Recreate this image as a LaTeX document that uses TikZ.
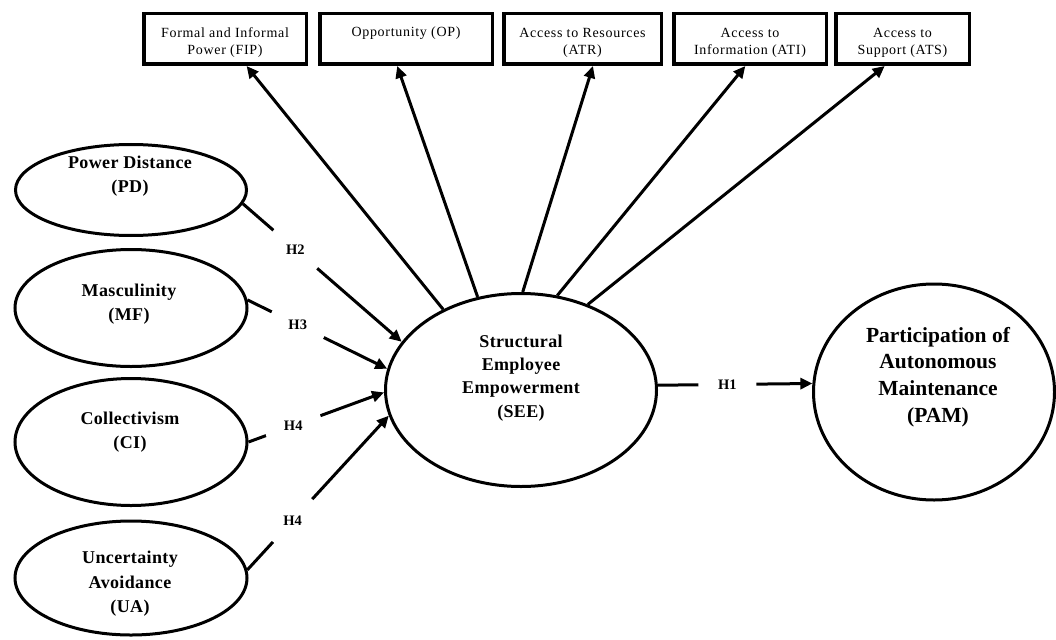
\documentclass[tikz,border=0pt]{standalone}
\usepackage{fontspec}
\setmainfont{Liberation Serif}
\usetikzlibrary{shapes.geometric,arrows.meta,calc}
\begin{document}
\begin{tikzpicture}[x=1pt,y=-1pt,
  latent/.style={ellipse,draw,line width=3pt,inner sep=0pt},
  lbl/.style={font=\fontsize{18}{24.5}\selectfont\bfseries\addfontfeatures{LetterSpace=2},align=center,inner sep=0pt},
  biglbl/.style={font=\fontsize{21.5}{26.7}\selectfont\bfseries,align=center,inner sep=0pt},
  dimbox/.style={draw,line width=3.5pt,align=center,minimum height=50.5pt,inner sep=0pt,
    font=\fontsize{14}{17}\selectfont\addfontfeatures{LetterSpace=5}},
  arr/.style={line width=3pt,-{Triangle[length=12pt,width=11pt]}},
  hyp/.style={circle,fill=white,minimum size=58pt,inner sep=0pt,
    font=\fontsize{14.5}{16}\selectfont\bfseries}
]
\useasboundingbox (0,0) rectangle (1056,639);

% top dimension boxes
\node[dimbox,minimum width=162.5pt] (fip) at (225,39) {\rule{0pt}{17pt}Formal and Informal\\Power (FIP)};
\node[dimbox,minimum width=172.5pt] (op) at (406,39) {\rule{0pt}{17pt}Opportunity (OP)\\\strut};
\node[dimbox,minimum width=157.5pt] (atr) at (582.5,39) {\rule{0pt}{17pt}Access to Resources\\(ATR)};
\node[dimbox,minimum width=152.5pt] (ati) at (750,39) {\rule{0pt}{17pt}Access to\\Information (ATI)};
\node[dimbox,minimum width=133.5pt] (ats) at (902.5,39) {\rule{0pt}{17pt}Access to\\Support (ATS)};

% latent constructs
\node[latent,minimum width=231pt,minimum height=91pt] (pd) at (131,190) {};
\node[lbl] (pdt) at (130,176) {Power Distance\\(PD)};
\node[latent,minimum width=232pt,minimum height=117pt] (mf) at (131,308) {};
\node[lbl] (mft) at (129,304) {Masculinity\\(MF)};
\node[latent,minimum width=232pt,minimum height=127pt] (ci) at (131,442) {};
\node[lbl] (cit) at (130,432) {Collectivism\\(CI)};
\node[latent,minimum width=232pt,minimum height=114pt] (ua) at (131,578) {};
\node[lbl] (uat) at (130,584) {Uncertainty\\Avoidance\\(UA)};
\node[latent,minimum width=271pt,minimum height=193pt] (see) at (521,390) {};
\node[lbl,font=\fontsize{18}{23.3}\selectfont\bfseries\addfontfeatures{LetterSpace=2}] (seet) at (521,378) {Structural\\Employee\\Empowerment\\(SEE)};
\node[latent,minimum width=241pt,minimum height=216pt] (pam) at (934,392) {};
\node[biglbl] (pamt) at (938,377) {Participation of\\Autonomous\\Maintenance\\(PAM)};

% SEE to dimensions
\draw[arr] (see.134.6) -- ($(fip.south west)!0.63!(fip.south east)$);
\draw[arr] (see.115.4) -- ($(op.south west)!0.45!(op.south east)$);
\draw[arr] (see.89.4) -- ($(atr.south west)!0.565!(atr.south east)$);
\draw[arr] (see.69.3) -- ($(ati.south west)!0.47!(ati.south east)$);
\draw[arr] (see.52.7) -- ($(ats.south west)!0.37!(ats.south east)$);

% hypotheses
\draw[arr] (pd.-7) -- node[hyp,pos=0.33] (h2) {H2} (see.158.8);
\draw[arr] (mf.4.5) -- node[hyp,pos=0.36] (h3) {H3} (see.171.8);
\draw[arr] (ci.0) -- node[hyp,pos=0.33] (h4a) {H4} (see.181);
\draw[arr] (ua.4.9) -- node[hyp,pos=0.32] (h4b) {H4} (see.191.6);
\draw[arr] (see.2.5) -- node[hyp,pos=0.45] (h1) {H1} (pam.176.2);
\end{tikzpicture}
\end{document}
